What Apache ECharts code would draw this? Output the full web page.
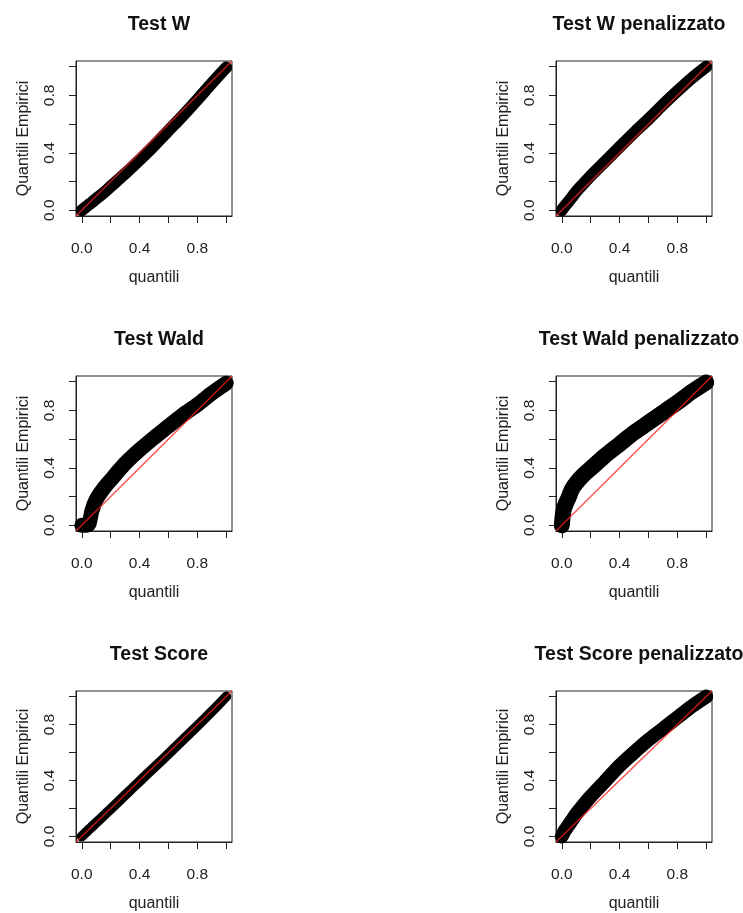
<!DOCTYPE html>
<html>
<head>
<meta charset="utf-8">
<script src="https://cdn.jsdelivr.net/npm/echarts@6/dist/echarts.min.js"></script>
<style>
  html, body { margin: 0; padding: 0; background: #fff; }
  #chart { width: 743px; height: 913px; }
</style>
</head>
<body>
<div id="chart"></div>
<script>
// ---- data ----
const titoli = ["Test W", "Test W penalizzato", "Test Wald", "Test Wald penalizzato", "Test Score", "Test Score penalizzato"];
const quantiliTeorici = [0, 0.01, 0.02, 0.03, 0.05, 0.07, 0.1, 0.15, 0.2, 0.3, 0.4, 0.5, 0.6, 0.7, 0.8, 0.9, 1.0];
const empiriciW        = [0, 0.008, 0.016, 0.024, 0.04, 0.055, 0.08, 0.12, 0.165, 0.255, 0.35, 0.45, 0.555, 0.66, 0.77, 0.885, 0.995];
const empiriciWPen     = [0, 0.015, 0.028, 0.04, 0.065, 0.09, 0.13, 0.185, 0.24, 0.34, 0.44, 0.54, 0.635, 0.735, 0.83, 0.92, 1.0];
const empiriciWald     = [0, 0, 0, 0, 0.01, 0.1, 0.18, 0.255, 0.315, 0.43, 0.525, 0.61, 0.69, 0.77, 0.84, 0.92, 0.99];
const empiriciWaldPen  = [0, 0.09, 0.13, 0.155, 0.2, 0.25, 0.295, 0.35, 0.395, 0.485, 0.565, 0.645, 0.715, 0.785, 0.855, 0.93, 0.995];
const empiriciScore    = [0, 0.01, 0.02, 0.03, 0.05, 0.069, 0.098, 0.147, 0.196, 0.295, 0.394, 0.492, 0.59, 0.69, 0.79, 0.893, 1.0];
const empiriciScorePen = [0, 0.02, 0.04, 0.055, 0.085, 0.115, 0.16, 0.225, 0.285, 0.395, 0.505, 0.6, 0.69, 0.77, 0.85, 0.93, 1.0];
const tickValues  = [0, 0.2, 0.4, 0.6, 0.8, 1.0];
const labelValues = [0, 0.4, 0.8];
const axisRange = [-0.04, 1.04];

const serie = [empiriciW, empiriciWPen, empiriciWald, empiriciWaldPen, empiriciScore, empiriciScorePen];
const spessori = [12, 12, 15, 16, 10, 14];

// ---- layout ----
const FONT = "'Liberation Sans', Arial, sans-serif";
const colLeft = [76, 556];
const rowTop = [61, 376, 691];
const W = 156, H = 155;
const ink = '#222';

const grids = [], xAxes = [], yAxes = [], series = [], titles = [];
for (let i = 0; i < 6; i++) {
  const c = i % 2, r = Math.floor(i / 2);
  grids.push({ left: colLeft[c], top: rowTop[r], width: W, height: H,
    show: true, borderColor: ink, borderWidth: 1, backgroundColor: 'transparent' });
  const common = {
    type: 'value', gridIndex: i, min: axisRange[0], max: axisRange[1],
    splitLine: { show: false },
    axisLine: { show: true, onZero: false, lineStyle: { color: ink, width: 1 } },
    axisTick: { show: true, length: 7, customValues: tickValues, lineStyle: { color: ink, width: 1 } },
    nameLocation: 'middle',
    nameTextStyle: { fontFamily: FONT, fontSize: 16, color: ink }
  };
  xAxes.push(Object.assign({}, common, {
    name: 'quantili', nameGap: 54,
    axisLabel: { customValues: labelValues, margin: 25, fontFamily: FONT, fontSize: 15.5, color: ink,
      formatter: v => v.toFixed(1) }
  }));
  yAxes.push(Object.assign({}, common, {
    name: 'Quantili Empirici', nameGap: 44,
    axisLabel: { customValues: labelValues, margin: 18, rotate: 90, fontFamily: FONT, fontSize: 15.5, color: ink,
      formatter: v => v.toFixed(1) }
  }));
  titles.push({ text: titoli[i], left: colLeft[c] + W / 2, top: rowTop[r] - 51, textAlign: 'center',
    textStyle: { fontFamily: FONT, fontSize: 19.5, fontWeight: 'bold', color: '#111' } });
  series.push({
    type: 'line', xAxisIndex: i, yAxisIndex: i, smooth: 0.3, symbol: 'none', clip: true,
    data: quantiliTeorici.map((q, k) => [q, serie[i][k]]),
    lineStyle: { color: '#000', width: spessori[i], cap: 'round', join: 'round' },
    z: 2, silent: true
  });
  series.push({
    type: 'line', xAxisIndex: i, yAxisIndex: i, symbol: 'none', clip: true,
    data: axisRange.map(v => [v, v]),
    lineStyle: { color: 'rgba(255,30,30,0.75)', width: 1.5 },
    z: 3, silent: true
  });
}

const chart = echarts.init(document.getElementById('chart'), null, { renderer: 'canvas' });
chart.setOption({
  animation: false,
  backgroundColor: '#fff',
  title: titles,
  grid: grids,
  xAxis: xAxes,
  yAxis: yAxes,
  series: series
});
</script>
</body>
</html>
